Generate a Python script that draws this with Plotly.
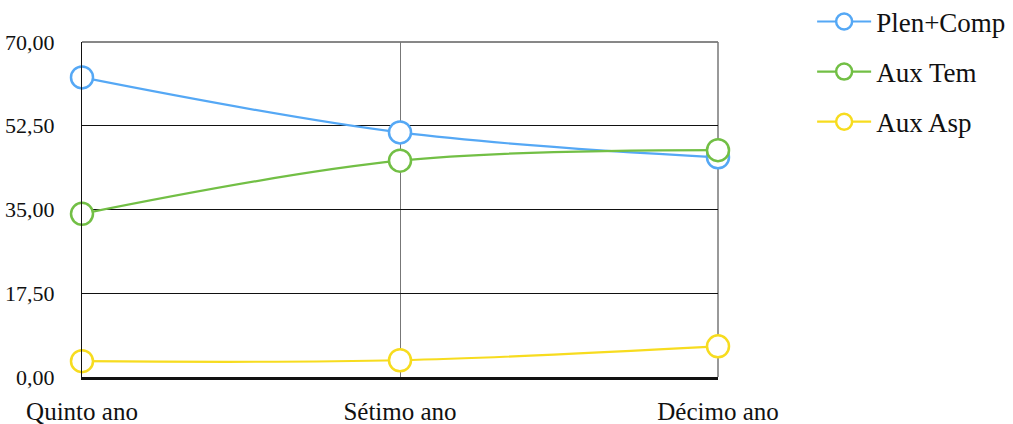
import plotly.graph_objects as go

categories = ["Quinto ano", "Sétimo ano", "Décimo ano"]
plen_comp = [62.6, 51.1, 45.9]
aux_tem = [34.1, 45.2, 47.4]
aux_asp = [3.3, 3.5, 6.4]
y_ticks = [0, 17.5, 35, 52.5, 70]

series = [
    ("Plen+Comp", plen_comp, "#55a8f5"),
    ("Aux Tem", aux_tem, "#72bf45"),
    ("Aux Asp", aux_asp, "#f7dc1f"),
]

FONT = "Liberation Serif"

fig = go.Figure()
for name, vals, color in series:
    fig.add_trace(go.Scatter(
        x=categories, y=vals, name=name, mode="lines+markers",
        legendgroup=name, cliponaxis=False,
        line=dict(color=color, width=2.2, shape="spline", smoothing=1.0),
        marker=dict(symbol="circle", size=22, color="white",
                    line=dict(color=color, width=2.5)),
        hoverinfo="skip",
    ))

# frame: top edge at 70,00 and right edge at the last category
fig.add_shape(type="line", xref="paper", yref="paper", x0=0, x1=1, y0=1, y1=1,
              line=dict(color="#111111", width=1), layer="below")
fig.add_shape(type="line", xref="paper", yref="paper", x0=1, x1=1, y0=0, y1=1,
              line=dict(color="#777777", width=1.5), layer="below")

fig.update_layout(
    width=1013, height=424,
    margin=dict(l=82, r=295, t=42, b=47, autoexpand=False),
    paper_bgcolor="white", plot_bgcolor="white",
    separators=",.",
    font=dict(family=FONT, color="#111111", size=22),
    legend=dict(
        x=1.148, y=1.133, xanchor="left", yanchor="top",
        font=dict(family=FONT, size=27, color="#111111"),
        tracegroupgap=12, itemwidth=54, bgcolor="rgba(0,0,0,0)",
    ),
    xaxis=dict(
        type="category", range=[0, 2], automargin=False,
        showgrid=True, gridcolor="#777777", gridwidth=1.3,
        showline=True, linecolor="#111111", linewidth=2.5,
        ticks="", tickfont=dict(family=FONT, size=25),
        ticklabelstandoff=10, zeroline=False,
    ),
    yaxis=dict(
        range=[0, 70], tickvals=y_ticks, tickformat=".2f", automargin=False,
        showgrid=True, gridcolor="#111111", gridwidth=1,
        showline=True, linecolor="#111111", linewidth=1,
        ticks="", tickfont=dict(family=FONT, size=22),
        ticklabelstandoff=22, zeroline=False,
    ),
)

fig.write_html("out.html")
